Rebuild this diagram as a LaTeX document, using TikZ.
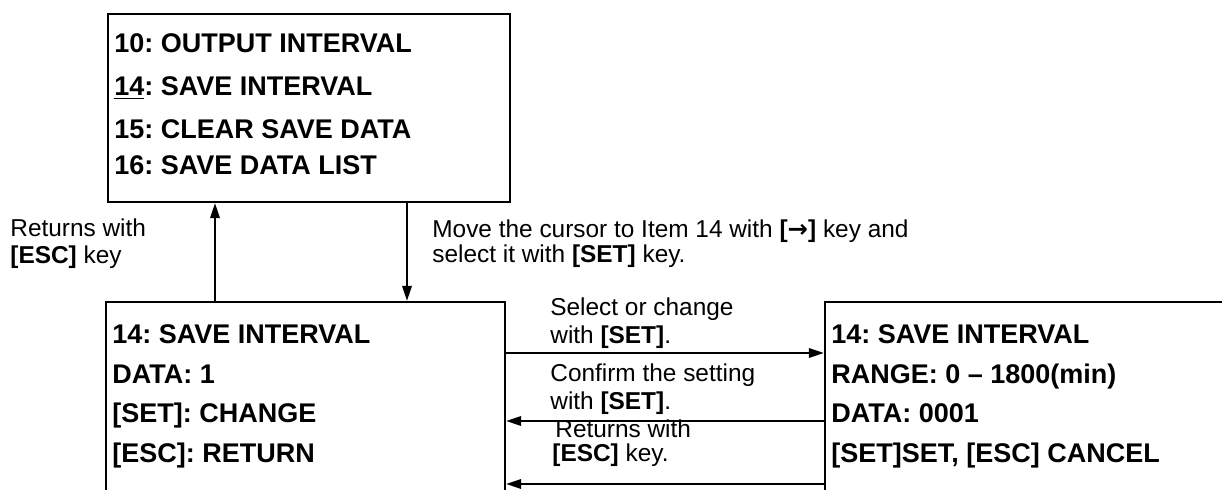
\documentclass[tikz,border=0pt]{standalone}
\usepackage{fontspec}
\setmainfont{Liberation Sans}
\newfontfamily\arrowfont{DejaVu Sans}
\frenchspacing
\usetikzlibrary{arrows.meta}
\tikzset{
  screen/.style={draw=black, line width=1.2pt, inner sep=0pt, rectangle},
  boxtext/.style={anchor=base west, inner sep=0pt, font=\fontsize{13.5}{16}\selectfont\bfseries},
  lbl/.style={anchor=base west, inner sep=0pt, font=\fontsize{12.2}{14}\selectfont},
  arr/.style={line width=0.9pt, -{Triangle[length=7.5pt,width=4.8pt]}}
}
\begin{document}
\begin{tikzpicture}[x=0.5pt,y=-0.5pt]
\useasboundingbox (0,0) rectangle (1222,490);
\clip (0,0) rectangle (1222,490);
% screens
\node[screen, minimum width=201pt, minimum height=94pt] (top) at (309,108) {};
\node[screen, minimum width=199.5pt, minimum height=149pt] (left) at (305.5,451) {};
\node[screen, minimum width=287.5pt, minimum height=149pt] (right) at (1112.5,451) {};
% top screen text
\node[boxtext] (t1) at (114,53) {10: OUTPUT INTERVAL};
\node[boxtext] (t2) at (114,96) {\underline{14}: SAVE INTERVAL};
\node[boxtext] (t3) at (114,139) {15: CLEAR SAVE DATA};
\node[boxtext] (t4) at (114,175) {16: SAVE DATA LIST};
% left screen text
\node[boxtext] (l1) at (112,344) {14: SAVE INTERVAL};
\node[boxtext] (l2) at (112,384) {DATA: 1};
\node[boxtext] (l3) at (112,423) {[SET]: CHANGE};
\node[boxtext] (l4) at (112,463) {[ESC]: RETURN};
% right screen text
\node[boxtext] (r1) at (831,344) {14: SAVE INTERVAL};
\node[boxtext] (r2) at (831,384) {RANGE: 0 -- 1800(min)};
\node[boxtext] (r3) at (831,423) {DATA: 0001};
\node[boxtext] (r4) at (831,463) {[SET]SET, [ESC] CANCEL};
% labels
\node[lbl] (a1) at (10,237) {Returns with};
\node[lbl] (a2) at (10,264) {\textbf{[ESC]} key};
\node[lbl] (b1) at (432,238) {Move the cursor to Item 14 with \textbf{[{\arrowfont →}]} key and};
\node[lbl] (b2) at (432,263) {select it with \textbf{[SET]} key.};
\node[lbl] (c1) at (550,316) {Select or change};
\node[lbl] (c2) at (550,344) {with \textbf{[SET]}.};
\node[lbl] (d1) at (550,382) {Confirm the setting};
\node[lbl] (d2) at (550,410) {with \textbf{[SET]}.};
\node[lbl] (e1) at (555,438) {Returns with};
\node[lbl] (e2) at (552,462) {\textbf{[ESC]} key.};
% connector positions
\coordinate (xu) at (215,0);
\coordinate (xd) at (407,0);
\coordinate (y1) at (0,353);
\coordinate (y2) at (0,421);
\coordinate (y3) at (0,484);
% connectors
\draw[arr] (xu |- left.north) -- (xu |- top.south);
\draw[arr] (xd |- top.south) -- (xd |- left.north);
\draw[arr] (left.east |- y1) -- (right.west |- y1);
\draw[arr] (right.west |- y2) -- (left.east |- y2);
\draw[arr] (right.west |- y3) -- (left.east |- y3);
\end{tikzpicture}
\end{document}
